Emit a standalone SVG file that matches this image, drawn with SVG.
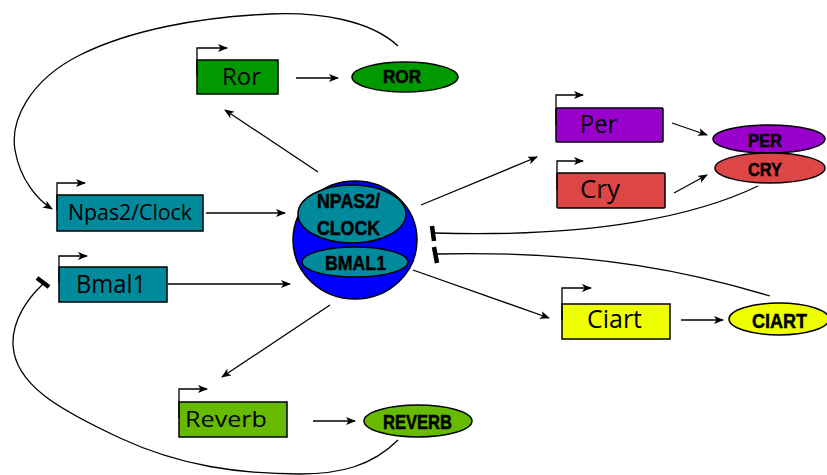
<svg xmlns="http://www.w3.org/2000/svg" width="827" height="475" viewBox="0 0 827 475">
<defs>
<marker id="ah" viewBox="0 0 10 8" refX="9" refY="4" markerWidth="10" markerHeight="8" markerUnits="userSpaceOnUse" orient="auto">
<path d="M0,0 L10,4 L0,8 L2.5,4 z" fill="#000"/>
</marker>
<style>
.box{stroke:#000;stroke-width:1.5}
.gt{font-family:"Open Sans","Liberation Sans",sans-serif;fill:#000}
.pt{font-family:"Liberation Sans","DejaVu Sans",sans-serif;font-weight:bold;fill:#000;stroke:#000;stroke-width:0.5}
.ell{stroke:#000;stroke-width:1.5}
.prom{fill:none;stroke:#000;stroke-width:1.3;marker-end:url(#ah)}
.arr{fill:none;stroke:#000;stroke-width:1.3;marker-end:url(#ah)}
.crv{fill:none;stroke:#000;stroke-width:1.3}
.bar{stroke:#000;stroke-width:4.5}
</style>
</defs>
<rect width="827" height="475" fill="#fff"/>

<g id="connectors">
<path class="arr" d="M398,46 C370,20 320,12 270,14 C200,17 130,30 80,55 C30,80 10,120 15,150 C20,180 38,200 52,209"/>
<path class="crv" d="M398,440 C372,466 340,474 300,474 C240,474 180,466 120,438 C60,410 15,385 13,345 C12,320 28,298 43,284"/>
<line class="bar" x1="37" y1="278" x2="49" y2="287"/>
<path class="crv" d="M758,186 C700,214 600,238 434,233"/>
<line class="bar" x1="432" y1="226" x2="434" y2="241"/>
<path class="crv" d="M770,296 C700,275 600,250 437,254"/>
<line class="bar" x1="434" y1="247" x2="437" y2="263"/>
<line class="arr" x1="296" y1="78" x2="338" y2="78"/>
<line class="arr" x1="206" y1="213" x2="285" y2="213"/>
<line class="arr" x1="168" y1="284" x2="290" y2="284"/>
<line class="arr" x1="318" y1="172" x2="225" y2="110"/>
<line class="arr" x1="421" y1="205" x2="537" y2="157"/>
<line class="arr" x1="413" y1="270" x2="549" y2="318"/>
<line class="arr" x1="330" y1="305" x2="222" y2="377"/>
<line class="arr" x1="672" y1="123" x2="707" y2="135"/>
<line class="arr" x1="674" y1="193" x2="707" y2="175"/>
<line class="arr" x1="681" y1="320" x2="723" y2="320"/>
<line class="arr" x1="313" y1="421" x2="355" y2="421"/>
</g>

<g id="Ror">
<rect class="box" x="197" y="60" width="81" height="34" fill="#009a00"/>
<path class="prom" d="M197,76 V48 H227"/>
<text class="gt" x="222" y="85" font-size="24" textLength="39" lengthAdjust="spacingAndGlyphs">Ror</text>
</g>
<g id="ROR">
<ellipse class="ell" cx="405" cy="77" rx="53" ry="15" fill="#009a00"/>
<text class="pt" x="383" y="83" font-size="17.5" textLength="38" lengthAdjust="spacingAndGlyphs">ROR</text>
</g>

<g id="Npas2Clock">
<rect class="box" x="57" y="195" width="146" height="36" fill="#008a9c"/>
<path class="prom" d="M57,210 V183 H85"/>
<text class="gt" x="68" y="220" font-size="21" textLength="124" lengthAdjust="spacingAndGlyphs">Npas2/Clock</text>
</g>

<g id="Bmal1">
<rect class="box" x="59" y="267" width="108" height="35" fill="#008a9c"/>
<path class="prom" d="M59,283 V256 H87"/>
<text class="gt" x="76" y="293" font-size="26" textLength="70" lengthAdjust="spacingAndGlyphs">Bmal1</text>
</g>

<g id="complex">
<ellipse cx="355" cy="240" rx="62" ry="59" fill="#0000ff" stroke="#000" stroke-width="1.5"/>
<ellipse class="ell" cx="352" cy="214" rx="54" ry="29" fill="#008a9c"/>
<ellipse class="ell" cx="355" cy="262" rx="53" ry="15" fill="#008a9c"/>
<text class="pt" x="317" y="208" font-size="21" textLength="63" lengthAdjust="spacingAndGlyphs">NPAS2/</text>
<text class="pt" x="317" y="235" font-size="21" textLength="63" lengthAdjust="spacingAndGlyphs">CLOCK</text>
<text class="pt" x="325" y="270" font-size="21" textLength="61" lengthAdjust="spacingAndGlyphs">BMAL1</text>
</g>

<g id="Per">
<rect class="box" x="556" y="108" width="107" height="34" fill="#9900cc" rx="1"/>
<path class="prom" d="M556,125 V95 H583"/>
<text class="gt" x="580" y="133" font-size="25" textLength="37" lengthAdjust="spacingAndGlyphs">Per</text>
</g>
<g id="Cry">
<rect class="box" x="557" y="173" width="108" height="35" fill="#dd4646" rx="1"/>
<path class="prom" d="M557,190 V161 H583"/>
<text class="gt" x="580" y="198" font-size="25" textLength="40" lengthAdjust="spacingAndGlyphs">Cry</text>
</g>
<g id="PER">
<ellipse class="ell" cx="769" cy="139" rx="56" ry="14" fill="#9900cc"/>
<text class="pt" x="748" y="147" font-size="18.5" textLength="34" lengthAdjust="spacingAndGlyphs">PER</text>
</g>
<g id="CRY">
<ellipse class="ell" cx="770" cy="168" rx="55" ry="15" fill="#dd4646"/>
<text class="pt" x="748" y="176" font-size="18.5" textLength="34" lengthAdjust="spacingAndGlyphs">CRY</text>
</g>

<g id="Ciart">
<rect class="box" x="562" y="304" width="108" height="35" fill="#eeff00"/>
<path class="prom" d="M562,320 V288 H591"/>
<text class="gt" x="587" y="328" font-size="25" textLength="55" lengthAdjust="spacingAndGlyphs">Ciart</text>
</g>
<g id="CIART">
<ellipse class="ell" cx="779" cy="319" rx="50" ry="16" fill="#eeff00"/>
<text class="pt" x="752" y="328" font-size="20" textLength="55" lengthAdjust="spacingAndGlyphs">CIART</text>
</g>

<g id="Reverb">
<rect class="box" x="179" y="402" width="108" height="35" fill="#66bb00"/>
<path class="prom" d="M179,418 V389 H207"/>
<text class="gt" x="185" y="427" font-size="22" textLength="82" lengthAdjust="spacingAndGlyphs">Reverb</text>
</g>
<g id="REVERB">
<ellipse class="ell" cx="418" cy="421" rx="54" ry="16" fill="#66bb00"/>
<text class="pt" x="383" y="429" font-size="20" textLength="69" lengthAdjust="spacingAndGlyphs">REVERB</text>
</g>
</svg>
